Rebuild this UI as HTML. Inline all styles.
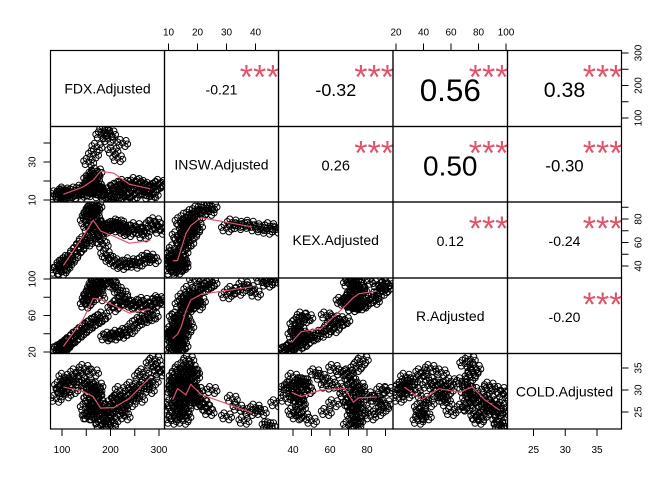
<!DOCTYPE html>
<html><head><meta charset="utf-8"><style>
html,body{margin:0;padding:0;background:#fff}
svg{display:block;font-family:"Liberation Sans",Arial,sans-serif}
</style></head><body>
<svg id="chart" width="672" height="480" viewBox="0 0 672 480"></svg>
<script>
const variables = ["FDX.Adjusted","INSW.Adjusted","KEX.Adjusted","R.Adjusted","COLD.Adjusted"];
const fdx = [88,95,100,104,108,112,98,106, 115,122,128,135,140,146,152,158,165,172,178,185, 148,152,156,160,163,166,170,174,178,155,168,172, 205,212,220,228,236,244,252,260,268,276,284,292,298,302, 190,198,206,214,222,230,240,250,260,270,280,288, 155,165,172,180,188,195,205,215,225,200];
const insw = [13,12,14,15,13,12,11,14, 13,14,15,12,16,14,17,15,13,16,14,15, 14,16,18,20,22,24,19,17,15,21,23,25, 16,17,18,19,17,18,20,19,18,17,16,17,18,19, 11,12,10,13,14,12,11,13,15,14,12,13, 30,34,38,44,47,42,36,32,40,45];
const kex = [36,38,42,40,44,46,35,39, 44,48,52,55,58,62,60,64,66,68,62,58, 78,82,85,88,90,86,80,76,74,84,89,91, 72,74,76,70,68,72,74,70,66,72,76,78,74,70, 50,46,44,42,40,42,44,41,43,46,48,45, 72,74,76,70,71,73,75,77,72,74];
const rr = [22,24,25,27,28,30,21,26, 32,34,38,40,43,45,48,50,53,55,57,60, 72,78,82,86,90,94,98,88,80,76,92,96, 68,72,76,78,74,72,70,74,76,68,70,74,78,76, 36,38,37,40,39,42,44,50,54,56,58,60, 82,86,90,95,99,100,94,88,84,97];
const cold = [28,31,30,33,29,32,30,31, 32,30,34,33,31,35,32,31,34,29,27,25, 26,24,28,30,27,25,29,31,23,28,26,30, 26,28,30,27,29,31,30,33,34,32,36,37,35,34, 23,24,26,28,25,24,27,29,28,31,30,32, 24,26,25,22,27,25,23,28,26,22];
const series = [fdx, insw, kex, rr, cold];
const corrPairs = [[0,1],[0,2],[0,3],[0,4],[1,2],[1,3],[1,4],[2,3],[2,4],[3,4]];
const corrValues = [-0.21,-0.32,0.56,0.38,0.26,0.50,-0.30,0.12,-0.24,-0.20];
const corrStars = ["***","***","***","***","***","***","***","***","***","***"];
const xDomains = [[100,300],[10,40],[40,80],[20,100],[25,35]];
const yDomains = [[100,300],[10,30],[40,80],[20,100],[25,35]];
const tickValsX = [[100,150,200,250,300],[10,20,30,40],[40,50,60,70,80,90],[20,40,60,80,100],[25,30,35]];
const tickLabsX = [["100","","200","","300"],["10","20","30","40"],["40","","60","","80",""],["20","40","60","80","100"],["25","30","35"]];
const tickValsY = [[100,150,200,250,300],[10,20,30,40],[40,50,60,70,80,90],[20,40,60,80,100],[25,30,35]];
const tickLabsY = [["100","","200","","300"],["10","","30",""],["40","","60","","80",""],["20","","60","","100"],["25","30","35"]];

const NS="http://www.w3.org/2000/svg";
const svg=document.getElementById('chart');
const colE=[50.5,164.5,278.5,393,507.5,621.5];
const rowE=[50.5,126.5,202,278,353.5,429];
const xPix=[[62,159],[168.5,255.5],[293,367],[396,506],[533.5,597]];
const yPix=[[118,53],[200,162],[266,219],[352,279],[412,368]];
const glyph=[[0,0],[3.5,-2.5],[-3.5,2.5],[2.5,3.5],[-2.5,-3.5],[5,1],[-5,-1]];
function sx(v,val){const d=xDomains[v],p=xPix[v];return p[0]+(val-d[0])*(p[1]-p[0])/(d[1]-d[0]);}
function sy(v,val){const d=yDomains[v],p=yPix[v];return p[0]+(val-d[0])*(p[1]-p[0])/(d[1]-d[0]);}
function el(t,a,p){const e=document.createElementNS(NS,t);for(const k in a)e.setAttribute(k,a[k]);(p||svg).appendChild(e);return e;}
function txt(s,a,p){const e=el('text',a,p);e.textContent=s;return e;}

for(let r=0;r<5;r++){for(let c=0;c<5;c++){
  const g=el('g',{});
  
  
  const x0=colE[c],y0=rowE[r],w=colE[c+1]-x0,h=rowE[r+1]-y0;
  if(r===c){
    const t=txt(variables[r],{x:x0+w/2,y:y0+h/2+5,'text-anchor':'middle','font-size':14,fill:'#000'},g);
    
    
  } else if(r>c){
    const clip=el('clipPath',{id:'cp'+r+c},g);
    el('rect',{x:x0,y:y0,width:w,height:h},clip);
    const pg=el('g',{'clip-path':'url(#cp'+r+c+')'},g);
    const xs=series[c],ys=series[r];
    for(let i=0;i<xs.length;i++){
      const cx=sx(c,xs[i]),cy=sy(r,ys[i]);
      const pt=el('g',{},pg);
      
      
      glyph.forEach(o=>{
        el('circle',{cx:(cx+o[0]).toFixed(1),cy:(cy+o[1]).toFixed(1),r:3,fill:'none',stroke:'#000','stroke-width':1},pt);
      });
    }
    const idx=xs.map((v,i)=>i).sort((a,b)=>xs[a]-xs[b]);
    const nb=7,pts=[];
    for(let b=0;b<nb;b++){
      const s=idx.slice(Math.floor(b*idx.length/nb),Math.floor((b+1)*idx.length/nb));
      if(!s.length)continue;
      const mx=s.reduce((a,i)=>a+xs[i],0)/s.length,my=s.reduce((a,i)=>a+ys[i],0)/s.length;
      pts.push(sx(c,mx).toFixed(1)+','+sy(r,my).toFixed(1));
    }
    const pl=el('polyline',{points:pts.join(' '),fill:'none',stroke:'#DF536B','stroke-width':1.2},pg);
    
    
  } else {
    const k=corrPairs.findIndex(p=>p[0]===r&&p[1]===c);
    const v=corrValues[k];
    const fs=Math.max(14,Math.abs(v)*56);
    const t=txt(v.toFixed(2),{x:x0+w/2,y:y0+h/2+fs*0.36+1,'text-anchor':'middle','font-size':fs.toFixed(1),fill:'#000'},g);
    
    
    const st=txt(corrStars[k],{x:x0+w+1,y:y0+38,'text-anchor':'end','font-size':34,fill:'#DF536B'},g);
    
    
  }
  el('rect',{x:x0,y:y0,width:w,height:h,fill:'none',stroke:'#000','stroke-width':1.2},g);
}}

function axisX(v,top){
  const g=el('g',{});
  
  
  const yb=top?rowE[0]:rowE[5];
  tickValsX[v].forEach((tv,i)=>{
    const x=sx(v,tv);
    el('line',{x1:x,x2:x,y1:yb,y2:top?yb-7:yb+7,stroke:'#000'},g);
    if(tickLabsX[v][i])txt(tickLabsX[v][i],{x:x,y:top?yb-15:yb+24,'text-anchor':'middle','font-size':10,fill:'#000'},g);
  });
}
function axisY(v,left){
  const g=el('g',{});
  
  
  const xb=left?colE[0]:colE[5];
  tickValsY[v].forEach((tv,i)=>{
    const y=sy(v,tv);
    el('line',{x1:xb,x2:left?xb-7:xb+7,y1:y,y2:y,stroke:'#000'},g);
    if(tickLabsY[v][i]){const lx=left?xb-15:xb+20;txt(tickLabsY[v][i],{x:lx,y:y,'text-anchor':'middle','font-size':10,fill:'#000',transform:'rotate(-90 '+lx+' '+y+')'},g);}
  });
}
axisX(1,true);axisX(3,true);
axisX(0,false);axisX(2,false);axisX(4,false);
axisY(1,true);axisY(3,true);
axisY(0,false);axisY(2,false);axisY(4,false);
</script>
</body></html>
